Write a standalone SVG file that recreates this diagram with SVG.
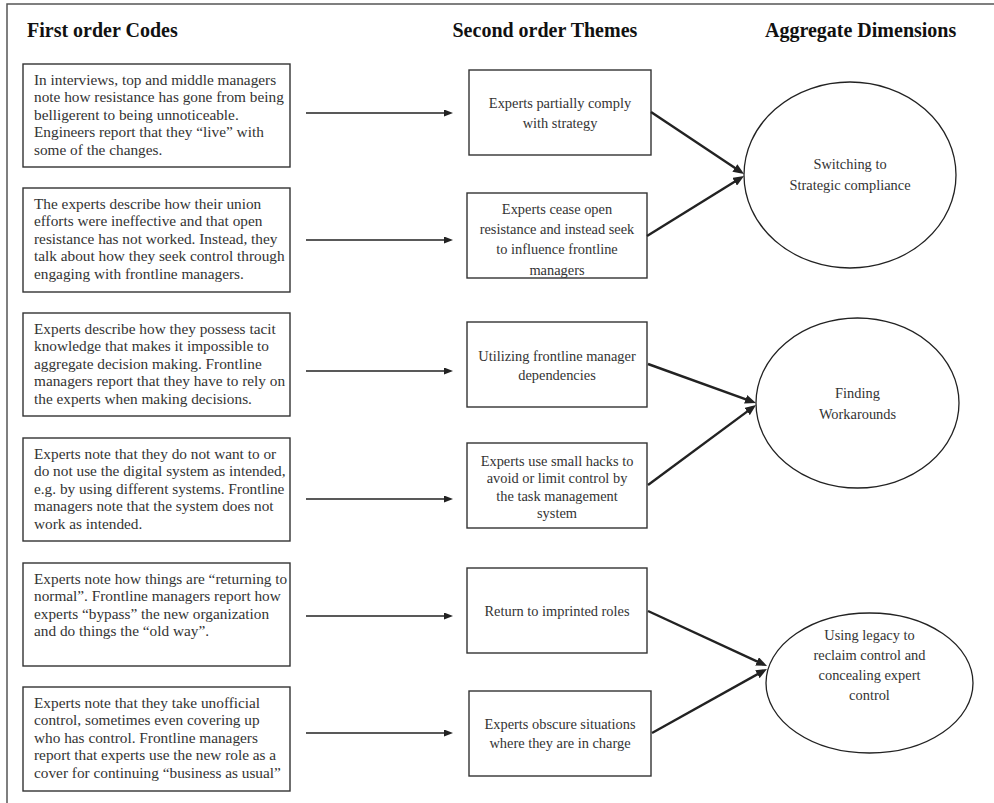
<svg xmlns="http://www.w3.org/2000/svg" width="994" height="803" viewBox="0 0 994 803">
<style>
.frame{fill:none;stroke:#555;stroke-width:1.5}
.box{fill:#fff;stroke:#333;stroke-width:1.4}
.ell{fill:#fff;stroke:#222;stroke-width:1.3}
.hdr{font-family:"Liberation Serif","Times New Roman",serif;font-weight:bold;font-size:20px;fill:#111}
.lt{font-family:"Liberation Serif","Times New Roman",serif;font-size:15.3px;fill:#333}
.mt{font-family:"Liberation Serif","Times New Roman",serif;font-size:14.4px;fill:#333;text-anchor:middle}
.thin{stroke:#222;stroke-width:1.4;fill:none}
.thick{stroke:#222;stroke-width:2.4;fill:none}
</style>
<defs>
<marker id="ah" markerUnits="userSpaceOnUse" markerWidth="9" markerHeight="7" refX="3" refY="3.5" orient="auto"><path d="M0,0 L9,3.5 L0,7 z" fill="#222"/></marker>
<marker id="ahb" markerUnits="userSpaceOnUse" markerWidth="11" markerHeight="9" refX="7" refY="4.5" orient="auto"><path d="M0,0 L11,4.5 L0,9 z" fill="#222"/></marker>
</defs>
<rect width="994" height="803" fill="#fff"/>
<path class="frame" d="M7,810 L7,4 L1000,4"/>
<g id="headers">
<text class="hdr" x="27" y="37">First order Codes</text>
<text class="hdr" x="452.5" y="37">Second order Themes</text>
<text class="hdr" x="765" y="37">Aggregate Dimensions</text>
</g>
<g id="c1"><rect class="box" x="23" y="64" width="267" height="103"/>
<text class="lt" x="34" y="85"><tspan x="34">In interviews, top and middle managers</tspan><tspan x="34" dy="17.4">note how resistance has gone from being</tspan><tspan x="34" dy="17.4">belligerent to being unnoticeable.</tspan><tspan x="34" dy="17.4">Engineers report that they “live” with</tspan><tspan x="34" dy="17.4">some of the changes.</tspan></text></g>
<g id="c2"><rect class="box" x="23" y="188" width="267" height="104"/>
<text class="lt" x="34" y="209"><tspan x="34">The experts describe how their union</tspan><tspan x="34" dy="17.4">efforts were ineffective and that open</tspan><tspan x="34" dy="17.4">resistance has not worked. Instead, they</tspan><tspan x="34" dy="17.4">talk about how they seek control through</tspan><tspan x="34" dy="17.4">engaging with frontline managers.</tspan></text></g>
<g id="c3"><rect class="box" x="23" y="313" width="267" height="103"/>
<text class="lt" x="34" y="334"><tspan x="34">Experts describe how they possess tacit</tspan><tspan x="34" dy="17.4">knowledge that makes it impossible to</tspan><tspan x="34" dy="17.4">aggregate decision making. Frontline</tspan><tspan x="34" dy="17.4">managers report that they have to rely on</tspan><tspan x="34" dy="17.4">the experts when making decisions.</tspan></text></g>
<g id="c4"><rect class="box" x="23" y="438" width="267" height="103"/>
<text class="lt" x="34" y="459"><tspan x="34">Experts note that they do not want to or</tspan><tspan x="34" dy="17.4">do not use the digital system as intended,</tspan><tspan x="34" dy="17.4">e.g. by using different systems. Frontline</tspan><tspan x="34" dy="17.4">managers note that the system does not</tspan><tspan x="34" dy="17.4">work as intended.</tspan></text></g>
<g id="c5"><rect class="box" x="23" y="563" width="267" height="103"/>
<text class="lt" x="34" y="584"><tspan x="34">Experts note how things are “returning to</tspan><tspan x="34" dy="17.4">normal”. Frontline managers report how</tspan><tspan x="34" dy="17.4">experts “bypass” the new organization</tspan><tspan x="34" dy="17.4">and do things the “old way”.</tspan></text></g>
<g id="c6"><rect class="box" x="23" y="687" width="267" height="104"/>
<text class="lt" x="34" y="708"><tspan x="34">Experts note that they take unofficial</tspan><tspan x="34" dy="17.4">control, sometimes even covering up</tspan><tspan x="34" dy="17.4">who has control. Frontline managers</tspan><tspan x="34" dy="17.4">report that experts use the new role as a</tspan><tspan x="34" dy="17.4">cover for continuing “business as usual”</tspan></text></g>
<g id="t1"><rect class="box" x="469" y="70" width="182" height="85"/>
<text class="mt" x="560" y="107.5"><tspan x="560">Experts partially comply</tspan><tspan x="560" dy="20">with strategy</tspan></text></g>
<g id="t2"><rect class="box" x="467" y="193" width="180" height="85"/>
<text class="mt" x="557" y="214"><tspan x="557">Experts cease open</tspan><tspan x="557" dy="20">resistance and instead seek</tspan><tspan x="557" dy="20">to influence frontline</tspan><tspan x="557" dy="20.5">managers</tspan></text></g>
<g id="t3"><rect class="box" x="467" y="322" width="180" height="85"/>
<text class="mt" x="557" y="361"><tspan x="557">Utilizing frontline manager</tspan><tspan x="557" dy="19">dependencies</tspan></text></g>
<g id="t4"><rect class="box" x="467" y="443" width="180" height="85"/>
<text class="mt" x="557" y="466"><tspan x="557">Experts use small hacks to</tspan><tspan x="557" dy="17.4">avoid or limit control by</tspan><tspan x="557" dy="17.4">the task management</tspan><tspan x="557" dy="17.4">system</tspan></text></g>
<g id="t5"><rect class="box" x="467" y="568" width="180" height="85"/>
<text class="mt" x="557" y="615.5">Return to imprinted roles</text></g>
<g id="t6"><rect class="box" x="469" y="691" width="182" height="85"/>
<text class="mt" x="560" y="728.5"><tspan x="560">Experts obscure situations</tspan><tspan x="560" dy="19.5">where they are in charge</tspan></text></g>
<g id="d1"><ellipse class="ell" cx="850" cy="175" rx="106" ry="93"/>
<text class="mt" x="850" y="169"><tspan x="850">Switching to</tspan><tspan x="850" dy="20.7">Strategic compliance</tspan></text></g>
<g id="d2"><ellipse class="ell" cx="857.5" cy="403" rx="101.5" ry="85"/>
<text class="mt" x="857.5" y="397.5"><tspan x="857.5">Finding</tspan><tspan x="857.5" dy="21.5">Workarounds</tspan></text></g>
<g id="d3"><ellipse class="ell" cx="869.5" cy="683" rx="103.5" ry="70"/>
<text class="mt" x="869.5" y="639.5"><tspan x="869.5">Using legacy to</tspan><tspan x="869.5" dy="20">reclaim control and</tspan><tspan x="869.5" dy="20">concealing expert</tspan><tspan x="869.5" dy="20">control</tspan></text></g>
<g id="connectors">
<line class="thin" x1="306" y1="113" x2="447" y2="113" marker-end="url(#ah)"/>
<line class="thin" x1="306" y1="240" x2="447" y2="240" marker-end="url(#ah)"/>
<line class="thin" x1="306" y1="371" x2="447" y2="371" marker-end="url(#ah)"/>
<line class="thin" x1="306" y1="499" x2="447" y2="499" marker-end="url(#ah)"/>
<line class="thin" x1="306" y1="616" x2="447" y2="616" marker-end="url(#ah)"/>
<line class="thin" x1="306" y1="733" x2="447" y2="733" marker-end="url(#ah)"/>
<line class="thick" x1="651" y1="112" x2="740.7" y2="171.8" marker-end="url(#ahb)"/>
<line class="thick" x1="647" y1="236" x2="740.6" y2="178.1" marker-end="url(#ahb)"/>
<line class="thick" x1="648" y1="364" x2="752.2" y2="401.6" marker-end="url(#ahb)"/>
<line class="thick" x1="648" y1="485" x2="752.8" y2="407.4" marker-end="url(#ahb)"/>
<line class="thick" x1="648" y1="611" x2="763.4" y2="664.3" marker-end="url(#ahb)"/>
<line class="thick" x1="652" y1="733" x2="763.5" y2="670.9" marker-end="url(#ahb)"/>
</g>
</svg>
